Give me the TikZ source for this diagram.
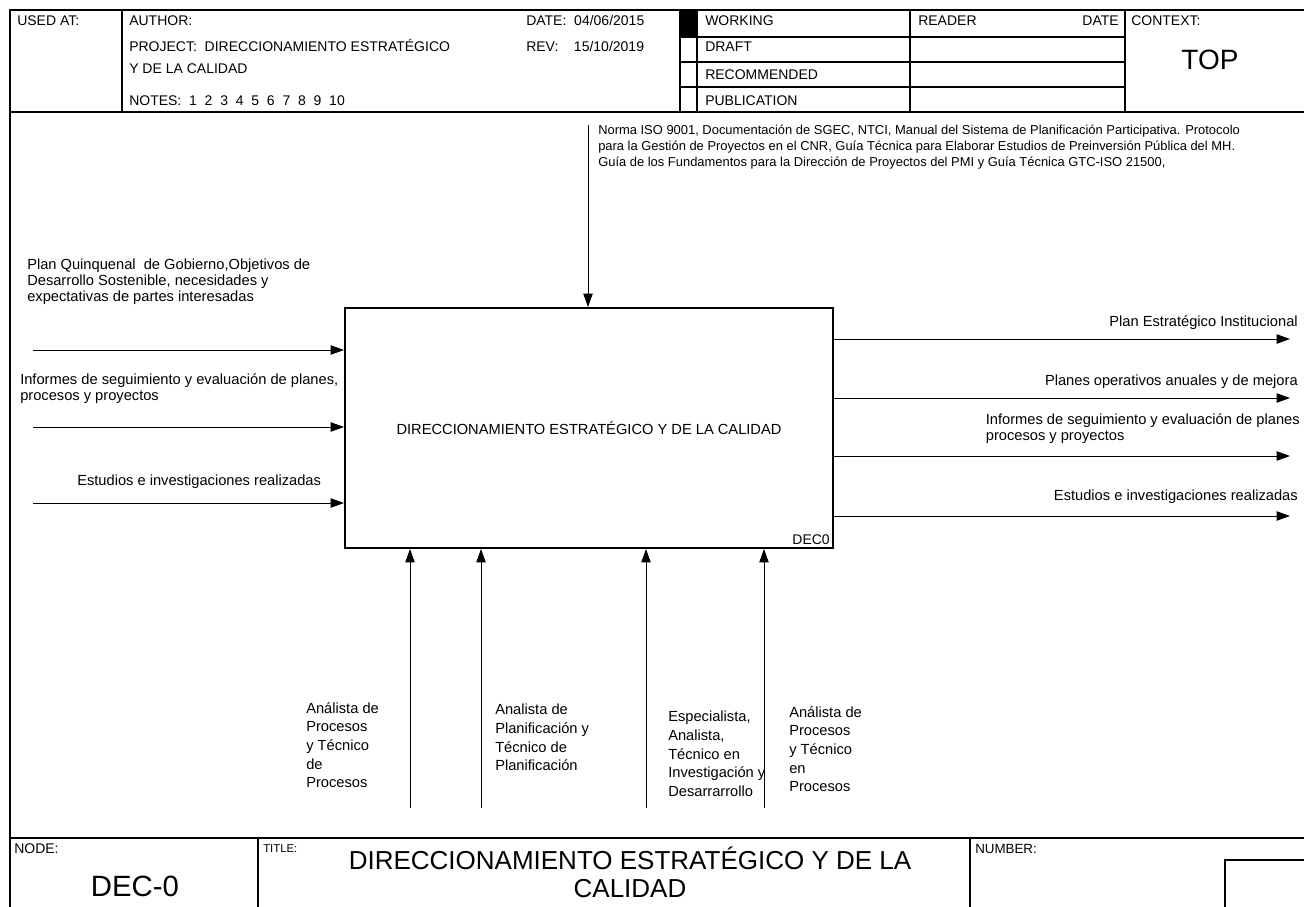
\documentclass[tikz,border=0pt]{standalone}
\usepackage{fontspec}
\setmainfont{Liberation Sans}
\usetikzlibrary{arrows.meta,positioning}
\tikzset{
  flow/.style={-{Triangle[length=10pt,width=7pt]}, line width=0.7pt},
  frameline/.style={line width=0.9pt},
  procbox/.style={draw, line width=1.5pt, minimum width=366pt, minimum height=180pt, font=\fontsize{11}{13}\selectfont},
  lbl/.style={font=\fontsize{11}{12}\selectfont, inner sep=0pt, align=left},
  mlbl/.style={font=\fontsize{11}{14}\selectfont, inner sep=0pt, align=left, anchor=north west},
  hdr/.style={font=\fontsize{10.5}{12}\selectfont, inner sep=0pt, anchor=base west},
}

\begin{document}
\begin{tikzpicture}[x=0.75pt,y=-0.75pt]
\useasboundingbox (0,0) rectangle (1304,907);

% Draw frame.
\draw[frameline] (10,907) -- (10,10) -- (1304,10);
\draw[frameline] (10,112) -- (1304,112);
\draw[frameline] (10,838) -- (1304,838);

% Header cells.
\foreach \x in {122,680,697,910,1125}
  \draw[frameline] (\x,10) -- (\x,112);
\foreach \y in {37,62,87}
  \draw[frameline] (680,\y) -- (1125,\y);
\fill (680,10) rectangle (697,37);

% Header texts.
\node[hdr] at (17,25) {USED AT:};
\node[hdr] at (129,25) {AUTHOR:};
\node[hdr] at (129,51) {PROJECT:\ \ DIRECCIONAMIENTO ESTRATÉGICO};
\node[hdr] at (129,73) {Y DE LA CALIDAD};
\node[hdr] at (129,105) {NOTES:\ \ 1\ \ 2\ \ 3\ \ 4\ \ 5\ \ 6\ \ 7\ \ 8\ \ 9\ \ 10};
\node[hdr] at (526,25) {DATE:\ \ 04/06/2015};
\node[hdr] at (526,51) {REV:\ \ \ \ 15/10/2019};
\node[hdr] at (705,25) {WORKING};
\node[hdr] at (705,51) {DRAFT};
\node[hdr] at (705,79) {RECOMMENDED};
\node[hdr] at (705,105) {PUBLICATION};
\node[hdr] at (918,25) {READER};
\node[hdr, anchor=base east] at (1119,25) {DATE};
\node[hdr] at (1131,25) {CONTEXT:};
\node[font=\fontsize{21}{24}\selectfont, inner sep=0pt] (ctx) at (1210,60) {TOP};

% Activity box.
\node[procbox] (proc) at (589,428) {DIRECCIONAMIENTO ESTRATÉGICO Y DE LA CALIDAD};
\node[anchor=south east, inner sep=3pt, font=\fontsize{10.5}{12}\selectfont] (box) at (proc.south east) {DEC0};

% Control.
\coordinate (ctl) at (588,125);
\draw[flow] (ctl) -- (ctl |- proc.north);
\node[anchor=north west, inner sep=0pt, align=left, font=\fontsize{9.7}{12}\selectfont] (ctltext) at (598,125)
{Norma ISO 9001, Documentación de SGEC, NTCI, Manual del Sistema de Planificación Participativa. Protocolo\\
para la Gestión de Proyectos en el CNR, Guía Técnica para Elaborar Estudios de Preinversión Pública del MH.\\
Guía de los Fundamentos para la Dirección de Proyectos del PMI y Guía Técnica GTC-ISO 21500,};

% Inputs.
\foreach \y/\n in {350/in1, 427/in2, 503/in3} {
  \coordinate (\n) at (33,\y);
  \draw[flow] (\n) -- (\n -| proc.west);
}
\node[lbl, anchor=north west] (in1text) at (27,259) {Plan Quinquenal\ \ de Gobierno,Objetivos de\\Desarrollo Sostenible, necesidades y\\expectativas de partes interesadas};
\node[lbl, anchor=north west] (in2text) at (20,373) {Informes de seguimiento y evaluación de planes,\\procesos y proyectos};
\node[lbl, anchor=base west] (in3text) at (77,485) {Estudios e investigaciones realizadas};

% Outputs.
\foreach \y/\n in {339/out1, 398/out2, 456/out3, 516/out4} {
  \coordinate (\n) at (1290,\y);
  \draw[flow] (\n -| proc.east) -- (\n);
}
\node[lbl, anchor=base east] (out1text) at (1298,326) {Plan Estratégico Institucional};
\node[lbl, anchor=base east] (out2text) at (1298,385) {Planes operativos anuales y de mejora};
\node[lbl, anchor=north east] (out3text) at (1300,413) {Informes de seguimiento y evaluación de planes\\procesos y proyectos};
\node[lbl, anchor=base east] (out4text) at (1298,500) {Estudios e investigaciones realizadas};

% Mechanisms.
\foreach \x/\n in {410/m1, 481/m2, 646/m3, 764/m4} {
  \coordinate (\n) at (\x,808);
  \draw[flow] (\n) -- (\n |- proc.south);
}
\node[mlbl] (m1text) at (306,702) {Análista de\\Procesos\\y\ Técnico\\de\\Procesos};
\node[mlbl] (m2text) at (495,704) {Analista de\\Planificación y\\Técnico de\\Planificación};
\node[mlbl] (m3text) at (668,711) {Especialista,\\Analista,\\Técnico en\\Investigación y\\Desarrarrollo};
\node[mlbl] (m4text) at (789,706) {Análista de\\Procesos\\y\ Técnico\\en\\Procesos};

% Footer cells.
\draw[frameline] (258,838) -- (258,907);
\draw[frameline] (970,838) -- (970,907);
\draw[frameline] (1225,907) -- (1225,860) -- (1304,860);
\node[hdr] at (14,853) {NODE:};
\node[hdr, font=\fontsize{8.5}{10}\selectfont] at (263,852) {TITLE:};
\node[hdr, font=\fontsize{10}{12}\selectfont] at (975,853) {NUMBER:};
\node[font=\fontsize{22}{24}\selectfont, inner sep=0pt] (node) at (135,886) {DEC-0};
\node[font=\fontsize{19.5}{21}\selectfont, inner sep=0pt, align=center] (title) at (630,872)
{DIRECCIONAMIENTO ESTRATÉGICO Y DE LA\\CALIDAD};
\end{tikzpicture}
\end{document}
